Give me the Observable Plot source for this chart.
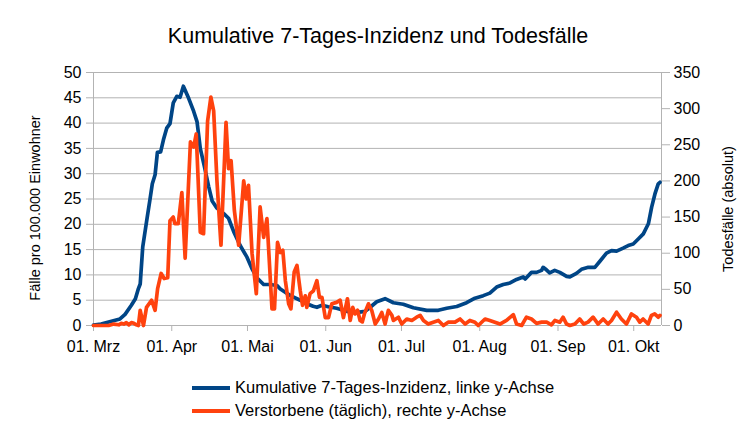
<!DOCTYPE html>
<html><head><meta charset="utf-8">
<script src="https://cdn.jsdelivr.net/npm/d3@7"></script>
<script src="https://cdn.jsdelivr.net/npm/@observablehq/plot@0.6"></script>
<style>
body{margin:0;background:#fff;font-family:"Liberation Sans",Arial,sans-serif;color:#000}
#wrap{width:756px;height:425px;position:relative;overflow:hidden;background:#fff}
#title{height:56px;box-sizing:border-box;padding-top:25px;text-align:center;font-size:21.5px;line-height:22px}
#legend{padding-left:192px;padding-top:10px;font-size:16.5px}
.row{height:23px;display:flex;align-items:center}
.sw{width:38px;height:4px;margin-right:5px}
</style></head>
<body><div id="wrap"><div id="title"></div><div id="chart"></div><div id="legend"></div></div>
<script>
const chartTitle = "Kumulative 7-Tages-Inzidenz und Todesfälle";
const leftTitle = "Fälle pro 100.000 Einwohner";
const rightTitle = "Todesfälle (absolut)";
const seriesNames = ["Kumulative 7-Tages-Inzidenz, linke y-Achse", "Verstorbene (täglich), rechte y-Achse"];
const seriesColors = ["#004586", "#ff420e"];
const xTickLabels = ["01. Mrz","01. Apr","01. Mai","01. Jun","01. Jul","01. Aug","01. Sep","01. Okt"];
const leftTicks = [0,5,10,15,20,25,30,35,40,45,50];
const rightTicks = [0,50,100,150,200,250,300,350];

// days after 1 March 2020
const incDay = [0,3,6,9,10.5,12.5,15,16.6,17.8,18.5,19.5,21.1,22.4,23.3,24.4,25.3,26.6,27.7,29,30.3,31.6,33,34.3,35.6,37.7,39.7,41,42.3,43.9,45.6,47,48.9,51.6,53.5,55.5,58.1,60.8,62.8,64.8,67.4,70,72.7,74,78,81.9,84.5,87,88.5,90.5,93,96.3,99,101.7,104.6,107.6,109.6,112.2,115.5,118.8,122.7,126.7,132,136.6,139.9,143.9,147.8,151.1,154.4,157,159.7,162.3,165,167.6,170.2,171,173.5,175.5,177.5,178.1,179.4,180.7,182.7,184.7,187.4,188.7,191.3,193.3,196,198.6,200.6,203.2,205.2,207.2,209.8,211.8,213.8,215.8,217.8,219.8,221.1,222.4,223.7,224.4];
const incValue = [0.1,0.3,0.7,1.1,1.3,2.2,4.0,5.3,7.3,8.2,15.5,20.8,25,28,29.8,34.2,34.3,36.7,39,39.9,44,45.3,45.1,47.3,44.9,42.3,40.3,35,31.5,27.5,24.6,23.2,22.1,21.2,18.6,15.8,13.5,11.2,9.4,8.1,8.1,7.9,7.2,5.9,5.0,4.3,3.8,3.6,4.0,3.7,3.4,3.0,2.6,2.6,2.8,3.6,4.7,5.3,4.5,4.2,3.5,3.0,3.0,3.4,3.75,4.5,5.4,5.9,6.4,7.6,8.1,8.4,9.1,9.6,9.2,10.5,10.5,10.9,11.5,11.0,10.4,10.9,10.5,9.7,9.6,10.3,11.1,11.5,11.5,12.7,14.3,14.8,14.7,15.3,15.8,16.1,17.1,18.1,20.1,23.4,26,28,28.3];

const deathDay = [0,3,6,8,10,11,12,13,14,15,16,17,17.8,18.5,19.8,21,23,24.4,25.4,26.8,28,29.4,30.3,31.6,32.2,33.6,35,36.3,38.4,39.7,40.7,42.3,43.6,45.2,46.5,47.6,48.9,50.5,52.5,53.5,54.5,55.8,57.5,59.5,60.5,61.4,62.8,64.5,66,67.4,68.7,70.7,71.7,72.9,74,75,76,77.3,78.2,79.5,80.6,81.9,82.8,83.9,84.5,85.8,87.1,88.5,89.5,90.5,91.8,93.1,94.4,96.3,97.7,99,100.6,101.7,102.7,103.6,104.6,105.6,106.5,107.3,108.9,110.2,111.6,112.9,114.2,115.5,116.8,118.2,118.8,120.8,122.1,124.1,126.1,128,129.4,130.7,132.6,134.6,136.6,138.6,140.5,143.2,145.2,147.2,149.1,151.1,152.4,155.1,157,159,161,163.6,166.3,167.6,169.6,171.5,173.5,175.5,177.5,179.5,181.4,182.8,184.7,186,187.4,188.7,190.7,192.6,194.2,195.9,197.9,199.9,201.9,203.8,205.2,207.2,209.1,211.1,213.1,215.1,216.4,217.7,219.7,221,222.3,223.7,224.4];
const deathValue = [0,0,0,2,1,3,2,4,1,4,3,1,0,21,0,25,35,21,51,72,65,66,145,150,141,141,184,93,254,247,265,129,127,283,316,297,200,111,281,217,228,159,111,200,175,194,100,44,164,122,148,23,23,115,101,104,62,30,23,74,83,48,28,41,25,44,48,62,39,39,11,11,30,32,35,11,37,7,25,16,21,7,5,16,30,21,2,9,18,2,21,14,7,11.5,2,9,7,11.5,14,7,2,4.6,7,0,4.6,4.6,9,2,7,4.6,0,9,7,4.6,2,7,15,2,0,11.5,9,3,4.6,4.6,1,7,4.6,11.5,2,0,2,9,2,4.6,11.5,2,9,2,7,18.4,9,2,16,11.5,4.6,9,2,14,16,11.5,14];

const start = Date.UTC(2020, 2, 1);
const toDate = d => new Date(start + d * 864e5);
const ratio = rightTicks[rightTicks.length - 1] / leftTicks[leftTicks.length - 1];
const inc = incDay.map((d, i) => ({date: toDate(d), v: incValue[i]}));
const deaths = deathDay.map((d, i) => ({date: toDate(d), v: deathValue[i] / ratio}));
const monthTicks = xTickLabels.map((_, i) => new Date(Date.UTC(2020, 2 + i, 1)));
const domainX = [toDate(0), toDate(225)];

document.getElementById("title").textContent = chartTitle;

const chart = Plot.plot({
  width: 756, height: 310,
  marginLeft: 93, marginRight: 95, marginTop: 16, marginBottom: 41,
  style: {fontFamily: '"Liberation Sans", Arial, sans-serif', fontSize: "16px", color: "#000", background: "#fff", overflow: "visible"},
  x: {type: "utc", domain: domainX},
  y: {domain: [0, 50]},
  marks: [
    Plot.ruleY(leftTicks, {stroke: "#b3b3b3", strokeWidth: 1}),
    Plot.ruleX(domainX, {stroke: "#b3b3b3", strokeWidth: 1}),
    Plot.axisY(leftTicks, {anchor: "left", tickSize: 7, tickPadding: 5, stroke: "#b3b3b3", fill: "#000", label: null, fontSize: 16}),
    Plot.axisY(rightTicks.map(d => d / ratio), {anchor: "right", tickSize: 8, tickPadding: 4, stroke: "#b3b3b3", fill: "#000", tickFormat: d => String(Math.round(d * ratio)), label: null, fontSize: 16}),
    Plot.axisX(monthTicks, {anchor: "bottom", tickSize: 6, tickPadding: 9, stroke: "#b3b3b3", fill: "#000", tickFormat: d => xTickLabels[d.getUTCMonth() - 2], label: null, fontSize: 16}),
    Plot.line(inc, {x: "date", y: "v", stroke: seriesColors[0], strokeWidth: 3.7, strokeLinejoin: "round"}),
    Plot.line(deaths, {x: "date", y: "v", stroke: seriesColors[1], strokeWidth: 3.7, strokeLinejoin: "round"}),
    Plot.text([leftTitle], {text: d => d, frameAnchor: "left", textAnchor: "middle", lineAnchor: "middle", dx: -58, dy: 9, rotate: -90, fontSize: 14.5, fill: "#000"}),
    Plot.text([rightTitle], {text: d => d, frameAnchor: "right", textAnchor: "middle", lineAnchor: "middle", dx: 67, dy: 10, rotate: -90, fontSize: 14.5, fill: "#000"})
  ]
});
document.getElementById("chart").appendChild(chart);

const legend = document.getElementById("legend");
seriesNames.forEach((name, i) => {
  const row = document.createElement("div");
  row.className = "row";
  const sw = document.createElement("div");
  sw.className = "sw";
  sw.style.background = seriesColors[i];
  const t = document.createElement("span");
  t.textContent = name;
  row.appendChild(sw); row.appendChild(t);
  legend.appendChild(row);
});
</script>
</body></html>
